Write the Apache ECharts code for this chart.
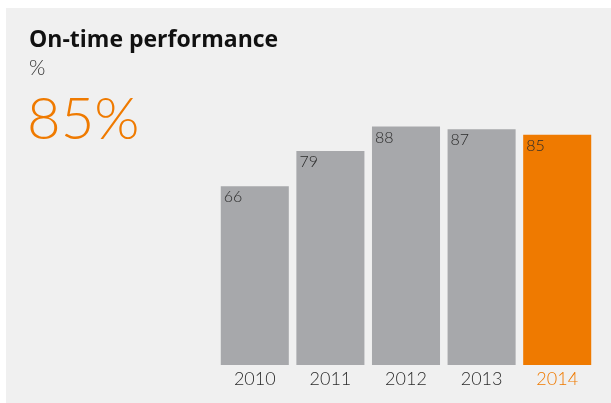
<!DOCTYPE html>
<html>
<head>
<meta charset="utf-8">
<style>
  html, body { margin: 0; padding: 0; background: #ffffff; }
  #chart { width: 611px; height: 403px; }
</style>
<script src="https://cdn.jsdelivr.net/npm/echarts@6/dist/echarts.min.js"></script>
</head>
<body>
<div id="chart"></div>
<script>
// On-time performance by year, in percent
const years = ['2010', '2011', '2012', '2013', '2014'];
const onTimePct = [66, 79, 88, 87, 85];
const highlightIndex = 4;

const GREY = '#a7a8ab';
const ORANGE = '#ef7a00';
const TEXT = '#2b2b2b';
const FONT = 'Lato, "Open Sans", sans-serif';
const TITLE_FONT = '"Open Sans", Lato, sans-serif';

const chart = echarts.init(document.getElementById('chart'), null, { renderer: 'canvas' });

const barData = onTimePct.map((v, i) => ({
  value: v,
  itemStyle: { color: i === highlightIndex ? ORANGE : GREY }
}));

chart.setOption({
  backgroundColor: 'transparent',
  animation: false,
  graphic: [
    {
      type: 'rect',
      z: -10,
      shape: { x: 6, y: 8, width: 605, height: 395 },
      style: { fill: '#f0f0f0' },
      silent: true
    },
    {
      type: 'text',
      left: 29, top: 29,
      style: { text: 'On-time performance', fill: '#111', font: 'bold 23px ' + TITLE_FONT }
    },
    {
      type: 'text',
      left: 29, top: 58,
      style: { text: '%', fill: '#333', font: '300 21px ' + FONT }
    },
    {
      type: 'text',
      left: 27, top: 91,
      style: { text: onTimePct[highlightIndex] + '%', fill: ORANGE, font: '300 58px ' + FONT }
    }
  ],
  grid: { left: 217, width: 378, top: 94, height: 271 },
  xAxis: {
    type: 'category',
    data: years,
    axisLine: { show: false },
    axisTick: { show: false },
    axisLabel: {
      margin: 5,
      fontFamily: FONT,
      fontSize: 18,
      fontWeight: 300,
      color: (val, idx) => (idx === highlightIndex ? ORANGE : TEXT)
    }
  },
  yAxis: {
    type: 'value',
    min: 0, max: 100,
    show: false,
    splitLine: { show: false }
  },
  series: [{
    type: 'bar',
    data: barData,
    barCategoryGap: '10%',
    label: {
      show: true,
      position: 'insideTopLeft',
      distance: 3,
      color: TEXT,
      fontFamily: FONT,
      fontSize: 16,
      fontWeight: 300
    }
  }]
});
</script>
</body>
</html>
